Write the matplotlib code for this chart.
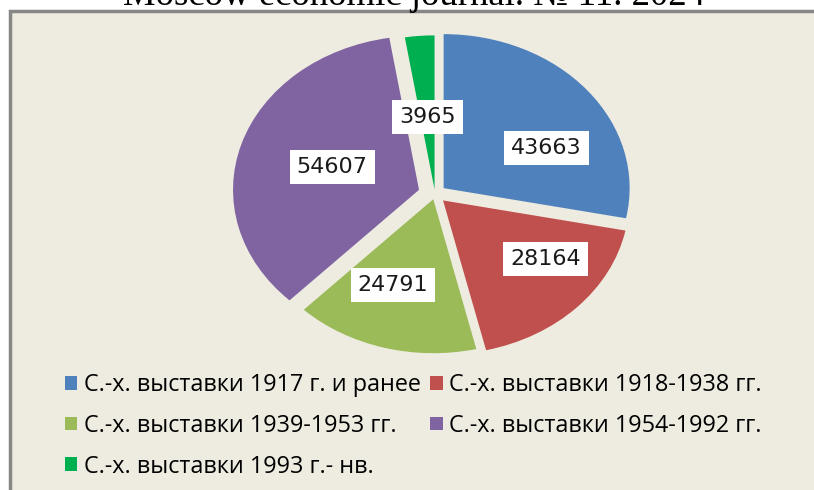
import matplotlib
matplotlib.use('Agg')
import matplotlib.pyplot as plt
from matplotlib.patches import Rectangle, Patch
import numpy as np

categories = ["С.-х. выставки 1917 г. и ранее",
              "С.-х. выставки 1918-1938 гг.",
              "С.-х. выставки 1939-1953 гг.",
              "С.-х. выставки 1954-1992 гг.",
              "С.-х. выставки 1993 г.- нв."]
values = [43663, 28164, 24791, 54607, 3965]
colors = ["#4F81BD", "#C0504D", "#9BBB59", "#8064A2", "#00B050"]
explode = [0.06, 0.06, 0.035, 0.09, 0.03]
label_r = [0.61, 0.67, 0.60, 0.49, 0.47]
label_frac = [0.64, 0.36, 0.60, 0.50, 0.50]
title = "Moscow economic journal. № 11. 2024"

W, H = 814, 490
fig = plt.figure(figsize=(W / 100, H / 100), dpi=100)
fig.patch.set_facecolor('white')

frame = Rectangle((10 / W, -0.1), 1.2, (1 - 11 / H) + 0.1, transform=fig.transFigure,
                  facecolor='#EEECE1', edgecolor='#878787', linewidth=2.5, zorder=-5)
fig.patches.append(frame)

fig.text(414 / W, 1 - 5 / H, title, ha='center', va='baseline',
         family='Liberation Serif', fontsize=26.5, color='black')

# pie axes: center (435,194) px, rx=186, ry=154
cx, cy, rx, ry = 435, 194, 186, 154
xl, yl = 1.3, 1.2
ax = fig.add_axes([(cx - xl * rx) / W, (H - cy - yl * ry) / H, 2 * xl * rx / W, 2 * yl * ry / H])
ax.set_zorder(2)
ax.patch.set_alpha(0)
wedges, _ = ax.pie(values, colors=colors, explode=explode, startangle=90, counterclock=False,
                   wedgeprops=dict(linewidth=0))
ax.set_aspect('auto')
ax.set_xlim(-xl, xl)
ax.set_ylim(-yl, yl)
ax.axis('off')

for w, v, r, f in zip(wedges, values, label_r, label_frac):
    # counterclock=False: theta2 is start, theta1 is end
    ang = np.deg2rad(w.theta2 - f * (w.theta2 - w.theta1))
    x0, y0 = w.center
    ax.text(x0 + r * np.cos(ang), y0 + r * np.sin(ang), str(v), ha='center', va='center',
            fontsize=16, family='DejaVu Sans', color='#1a1a1a',
            bbox=dict(boxstyle='square,pad=0.32', facecolor='white', edgecolor='none'))

handles = [Patch(facecolor=c, edgecolor='none', label=l) for c, l in zip(colors, categories)]
order = [0, 2, 4, 1, 3]
leg = fig.legend([handles[i] for i in order], [categories[i] for i in order],
                 ncol=2, loc='upper left', bbox_to_anchor=(65 / W, 1 - 373 / H),
                 frameon=False, prop=dict(family='Open Sans', size=16.8),
                 handlelength=0.53, handleheight=0.53, handletextpad=0.27,
                 columnspacing=0.42, labelspacing=0.72, borderaxespad=0, borderpad=0)
leg.set_zorder(3)

fig.savefig('out.png', dpi=100, facecolor='white')
